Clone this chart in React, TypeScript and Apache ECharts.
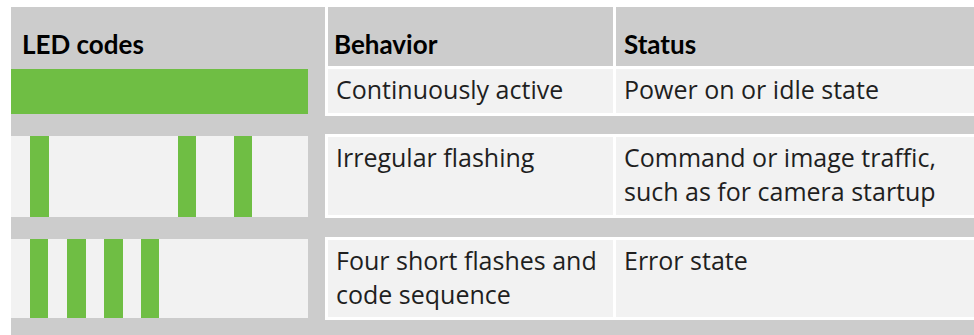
import React, { useEffect, useRef } from "react";
import * as echarts from "echarts";

// ---------- data ----------
const headers = ["LED codes", "Behavior", "Status"];
const behaviors = [
  "Continuously active",
  "Irregular flashing",
  "Four short flashes and\ncode sequence",
];
const statuses = [
  "Power on or idle state",
  "Command or image traffic,\nsuch as for camera startup",
  "Error state",
];
// LED time line (arbitrary time units) and "on" intervals [start, end]
const ledTimeMax = 297;
const ledContinuous = [[0, 297]];
const ledIrregular = [[19, 38], [167, 185], [223, 241]];
const ledError = [[19, 37], [56, 75], [93, 112], [130, 148]];
const ledPatterns = [ledContinuous, ledIrregular, ledError];

// ---------- layout & style ----------
const W = 974;
const H = 335;
const C = {
  gray: "#cccccc",
  light: "#f2f2f2",
  white: "#ffffff",
  green: "#6fbe44",
  text: "#1f1f1f",
  head: "#000000",
};
const BG_X = 11;
const BG_Y = 7;
const LED_X = 11;
const LED_W = 297;
const LED_ROWS = [
  { top: 69, h: 45 },
  { top: 136, h: 81 },
  { top: 239, h: 79 },
];
const TBL_X = 325;
const COLS = [
  { x: 328, w: 285 },
  { x: 616, w: 380 },
];
const HEADER = { top: 7, bottom: 66 };
const ROWS = [
  { top: 69, bottom: 113 },
  { top: 137, bottom: 215 },
  { top: 240, bottom: 317 },
];
const BLOCKS = [
  { top: 7, bottom: 116 },
  { top: 134, bottom: 218 },
  { top: 237, bottom: 320 },
];
const HEAD_FONT = { family: "Lato", size: 26, weight: "bold" as const };
const BODY_FONT = { family: "Open Sans", size: 25, weight: "normal" as const };
const LINE_H = 34;
const HEAD_BASE = 54;
const ROW_BASE = [99, 167, 270];
const HEAD_X = [22, 334, 624];
const BODY_X = [336, 624];

function textEl(text: string, x: number, baseline: number, font: typeof HEAD_FONT | typeof BODY_FONT, fill: string) {
  const y = baseline - LINE_H / 2 - 0.388 * font.size;
  return {
    type: "text",
    z: 5,
    silent: true,
    x,
    y,
    style: {
      text,
      fill,
      fontFamily: font.family,
      fontSize: font.size,
      fontWeight: font.weight,
      lineHeight: LINE_H,
      textAlign: "left",
      textVerticalAlign: "top",
    },
  };
}

export default function App() {
  const ref = useRef<HTMLDivElement>(null);

  useEffect(() => {
    if (!ref.current) return;
    const chart = echarts.init(ref.current, undefined, { renderer: "svg" });

    const elements: any[] = [];
    elements.push({
      type: "rect",
      z: 0,
      silent: true,
      shape: { x: BG_X, y: BG_Y, width: W - BG_X, height: H - BG_Y },
      style: { fill: C.gray },
    });
    LED_ROWS.forEach((r) =>
      elements.push({
        type: "rect",
        z: 1,
        silent: true,
        shape: { x: LED_X, y: r.top, width: LED_W, height: r.h },
        style: { fill: C.light },
      })
    );
    BLOCKS.forEach((b) =>
      elements.push({
        type: "rect",
        z: 1,
        silent: true,
        shape: { x: TBL_X, y: b.top, width: W - TBL_X + 20, height: b.bottom - b.top },
        style: { fill: C.white },
      })
    );
    COLS.forEach((c) => {
      elements.push({
        type: "rect",
        z: 2,
        silent: true,
        shape: { x: c.x, y: HEADER.top, width: c.w, height: HEADER.bottom - HEADER.top },
        style: { fill: C.gray },
      });
      ROWS.forEach((r) =>
        elements.push({
          type: "rect",
          z: 2,
          silent: true,
          shape: { x: c.x, y: r.top, width: c.w, height: r.bottom - r.top },
          style: { fill: C.light },
        })
      );
    });
    headers.forEach((h, i) => elements.push(textEl(h, HEAD_X[i], HEAD_BASE, HEAD_FONT, C.head)));
    behaviors.forEach((t, i) => elements.push(textEl(t, BODY_X[0], ROW_BASE[i], BODY_FONT, C.text)));
    statuses.forEach((t, i) => elements.push(textEl(t, BODY_X[1], ROW_BASE[i], BODY_FONT, C.text)));

    chart.setOption({
      animation: false,
      graphic: { elements },
      grid: LED_ROWS.map((r) => ({
        left: LED_X,
        top: r.top,
        width: LED_W,
        height: r.h,
        show: false,
        containLabel: false,
      })),
      xAxis: LED_ROWS.map((_, i) => ({
        type: "value",
        gridIndex: i,
        min: 0,
        max: ledTimeMax,
        show: false,
      })),
      yAxis: LED_ROWS.map((_, i) => ({
        type: "value",
        gridIndex: i,
        min: 0,
        max: 1,
        show: false,
      })),
      series: ledPatterns.map((data, i) => ({
        type: "custom",
        xAxisIndex: i,
        yAxisIndex: i,
        z: 10,
        silent: true,
        data,
        encode: { x: [0, 1] },
        renderItem: (params: any, api: any) => {
          const p0 = api.coord([api.value(0), 1]);
          const p1 = api.coord([api.value(1), 0]);
          return {
            type: "rect",
            shape: { x: p0[0], y: p0[1], width: p1[0] - p0[0], height: p1[1] - p0[1] },
            style: { fill: C.green },
          };
        },
      })),
    });

    return () => chart.dispose();
  }, []);

  return (
    <div
      ref={ref}
      style={{ position: "absolute", left: 0, top: 0, width: W, height: H }}
    />
  );
}
